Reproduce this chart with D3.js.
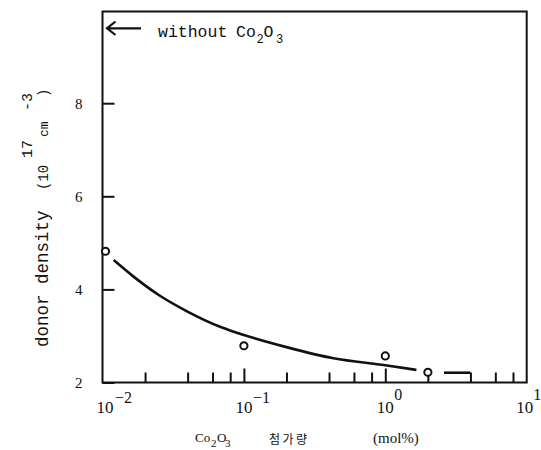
<!DOCTYPE html>
<html><head><meta charset="utf-8">
<script src="https://cdn.jsdelivr.net/npm/d3@7"></script>
<style>html,body{margin:0;padding:0;background:#fff;}svg{display:block;}</style>
</head><body>
<svg id="c" width="541" height="450"></svg>
<script>
// ---- data ----
const yTicks = [2, 4, 6, 8];
const xMajor = [0.01, 0.1, 1, 10];
const xMajorExp = ["\u22122", "\u22121", "0", "1"];
const xMinor = [0.02, 0.04, 0.06, 0.08, 0.2, 0.4, 0.6, 0.8, 2, 4, 6, 8];
const pointX = [0.0105, 0.1, 1.0, 2.0];
const pointY = [4.82, 2.79, 2.57, 2.22];
const curveX = [0.012, 0.0165, 0.025, 0.039, 0.07, 0.1, 0.2, 0.43, 1.0, 1.66];
const curveY = [4.63, 4.28, 3.88, 3.54, 3.18, 3.02, 2.76, 2.52, 2.37, 2.27];
const tailX = [2.6, 4.0];
const tailY = [2.21, 2.21];

const svg = d3.select("#c");
const L = 102.5, R = 526.7, B = 382.5, T = 11.5;
const x = d3.scaleLog().domain([0.01, 10]).range([L, R]);
const y = d3.scaleLinear().domain([2, 9.97]).range([B, T]);
const ink = "#111";

// frame
svg.append("rect").attr("x", L).attr("y", T).attr("width", R - L).attr("height", B - T)
  .attr("fill", "none").attr("stroke", ink).attr("stroke-width", 2);

// x ticks
const gMin = svg.append("g").attr("transform", `translate(0,${B})`)
  .call(d3.axisBottom(x).tickValues(xMinor).tickSize(-10).tickFormat(""));
const gMaj = svg.append("g").attr("transform", `translate(0,${B})`)
  .call(d3.axisBottom(x).tickValues(xMajor.slice(1, 3)).tickSize(-14).tickFormat(""));
[gMin, gMaj].forEach(g => {
  g.select(".domain").remove();
  g.selectAll("line").attr("stroke", ink).attr("stroke-width", 2);
});

// x major labels
const lab = svg.append("g").attr("fill", ink).attr("font-family", "'Liberation Serif', serif");
xMajor.forEach((v, i) => {
  lab.append("text").attr("x", x(v) + (i === 0 ? 2.5 : (i === 3 ? -2 : 0))).attr("y", 413)
    .attr("text-anchor", "middle").attr("font-size", 17).text("10");
  lab.append("text").attr("x", x(v) + (i === 0 ? 12.5 : (i === 3 ? 6.5 : 9))).attr("y", v >= 1 ? 400 : 403)
    .attr("font-size", 16).text(xMajorExp[i]);
});

// y axis ticks & labels
const gy = svg.append("g").attr("transform", `translate(${L},0)`)
  .call(d3.axisLeft(y).tickValues(yTicks).tickSize(-12).tickPadding(20).tickFormat(d3.format("d")));
gy.select(".domain").remove();
gy.selectAll("line").attr("stroke", ink).attr("stroke-width", 2);
gy.selectAll("text").attr("font-family", "'Liberation Serif', serif").attr("font-size", 15).attr("fill", ink);

// curve
const line = d3.line().x(d => x(d[0])).y(d => y(d[1])).curve(d3.curveMonotoneX);
svg.append("path").datum(curveX.map((v, i) => [v, curveY[i]])).attr("d", line)
  .attr("fill", "none").attr("stroke", ink).attr("stroke-width", 2.6);
svg.append("path").datum(tailX.map((v, i) => [v, tailY[i]])).attr("d", d3.line().x(d => x(d[0])).y(d => y(d[1])))
  .attr("fill", "none").attr("stroke", ink).attr("stroke-width", 2.6);

// points
svg.append("g").selectAll("circle").data(pointX.map((v, i) => [v, pointY[i]])).join("circle")
  .attr("cx", d => x(d[0])).attr("cy", d => y(d[1])).attr("r", 3.6)
  .attr("fill", "#fff").attr("stroke", ink).attr("stroke-width", 2);

// arrow + "without Co2O3"
svg.append("path").attr("d", "M141,28.3 L107,28.3 M115.5,21.5 L107,28.3 L115.5,35")
  .attr("fill", "none").attr("stroke", ink).attr("stroke-width", 2.2);
const mono = "'Liberation Mono', 'DejaVu Sans Mono', monospace";
const wt = svg.append("text").attr("font-family", mono).attr("fill", ink).attr("font-size", 16.5);
wt.append("tspan").attr("x", 158).attr("y", 37).text("without");
wt.append("tspan").attr("x", 236).attr("y", 37).text("Co");
wt.append("tspan").attr("x", 256.5).attr("y", 43).attr("font-size", 12).text("2");
wt.append("tspan").attr("x", 263.5).attr("y", 37).text("O");
wt.append("tspan").attr("x", 276).attr("y", 43).attr("font-size", 12).text("3");

// y axis title (rotated)
const yt = svg.append("text").attr("transform", "translate(48,347) rotate(-90)")
  .attr("font-family", mono).attr("fill", ink);
yt.append("tspan").attr("x", 0).attr("y", 0).attr("font-size", 17.5).text("donor density");
yt.append("tspan").attr("x", 157).attr("y", 0).attr("font-size", 14).text("(10");
yt.append("tspan").attr("x", 189).attr("y", -16).attr("font-size", 15).text("17");
yt.append("tspan").attr("x", 210).attr("y", 0).attr("font-size", 13).text("cm");
yt.append("tspan").attr("x", 236).attr("y", -16).attr("font-size", 15).text("-3");
yt.append("tspan").attr("x", 250).attr("y", 0).attr("font-size", 14).text(")");

// x axis title
const serif = "'Liberation Serif', serif";
const xt = svg.append("text").attr("font-family", serif).attr("fill", ink);
xt.append("tspan").attr("x", 195).attr("y", 442).attr("font-size", 13).text("Co");
xt.append("tspan").attr("x", 211).attr("y", 447).attr("font-size", 11).text("2");
xt.append("tspan").attr("x", 217).attr("y", 442).attr("font-size", 13).text("O");
xt.append("tspan").attr("x", 225).attr("y", 447).attr("font-size", 11).text("3");
svg.append("text").attr("x", 269).attr("y", 444).attr("font-family", "'Noto Sans CJK KR', sans-serif")
  .attr("font-size", 12).attr("letter-spacing", 2.5).attr("fill", ink).text("첨가량");
svg.append("text").attr("x", 373).attr("y", 443).attr("font-family", serif)
  .attr("font-size", 15).attr("fill", ink).text("(mol%)");
</script>
</body></html>
